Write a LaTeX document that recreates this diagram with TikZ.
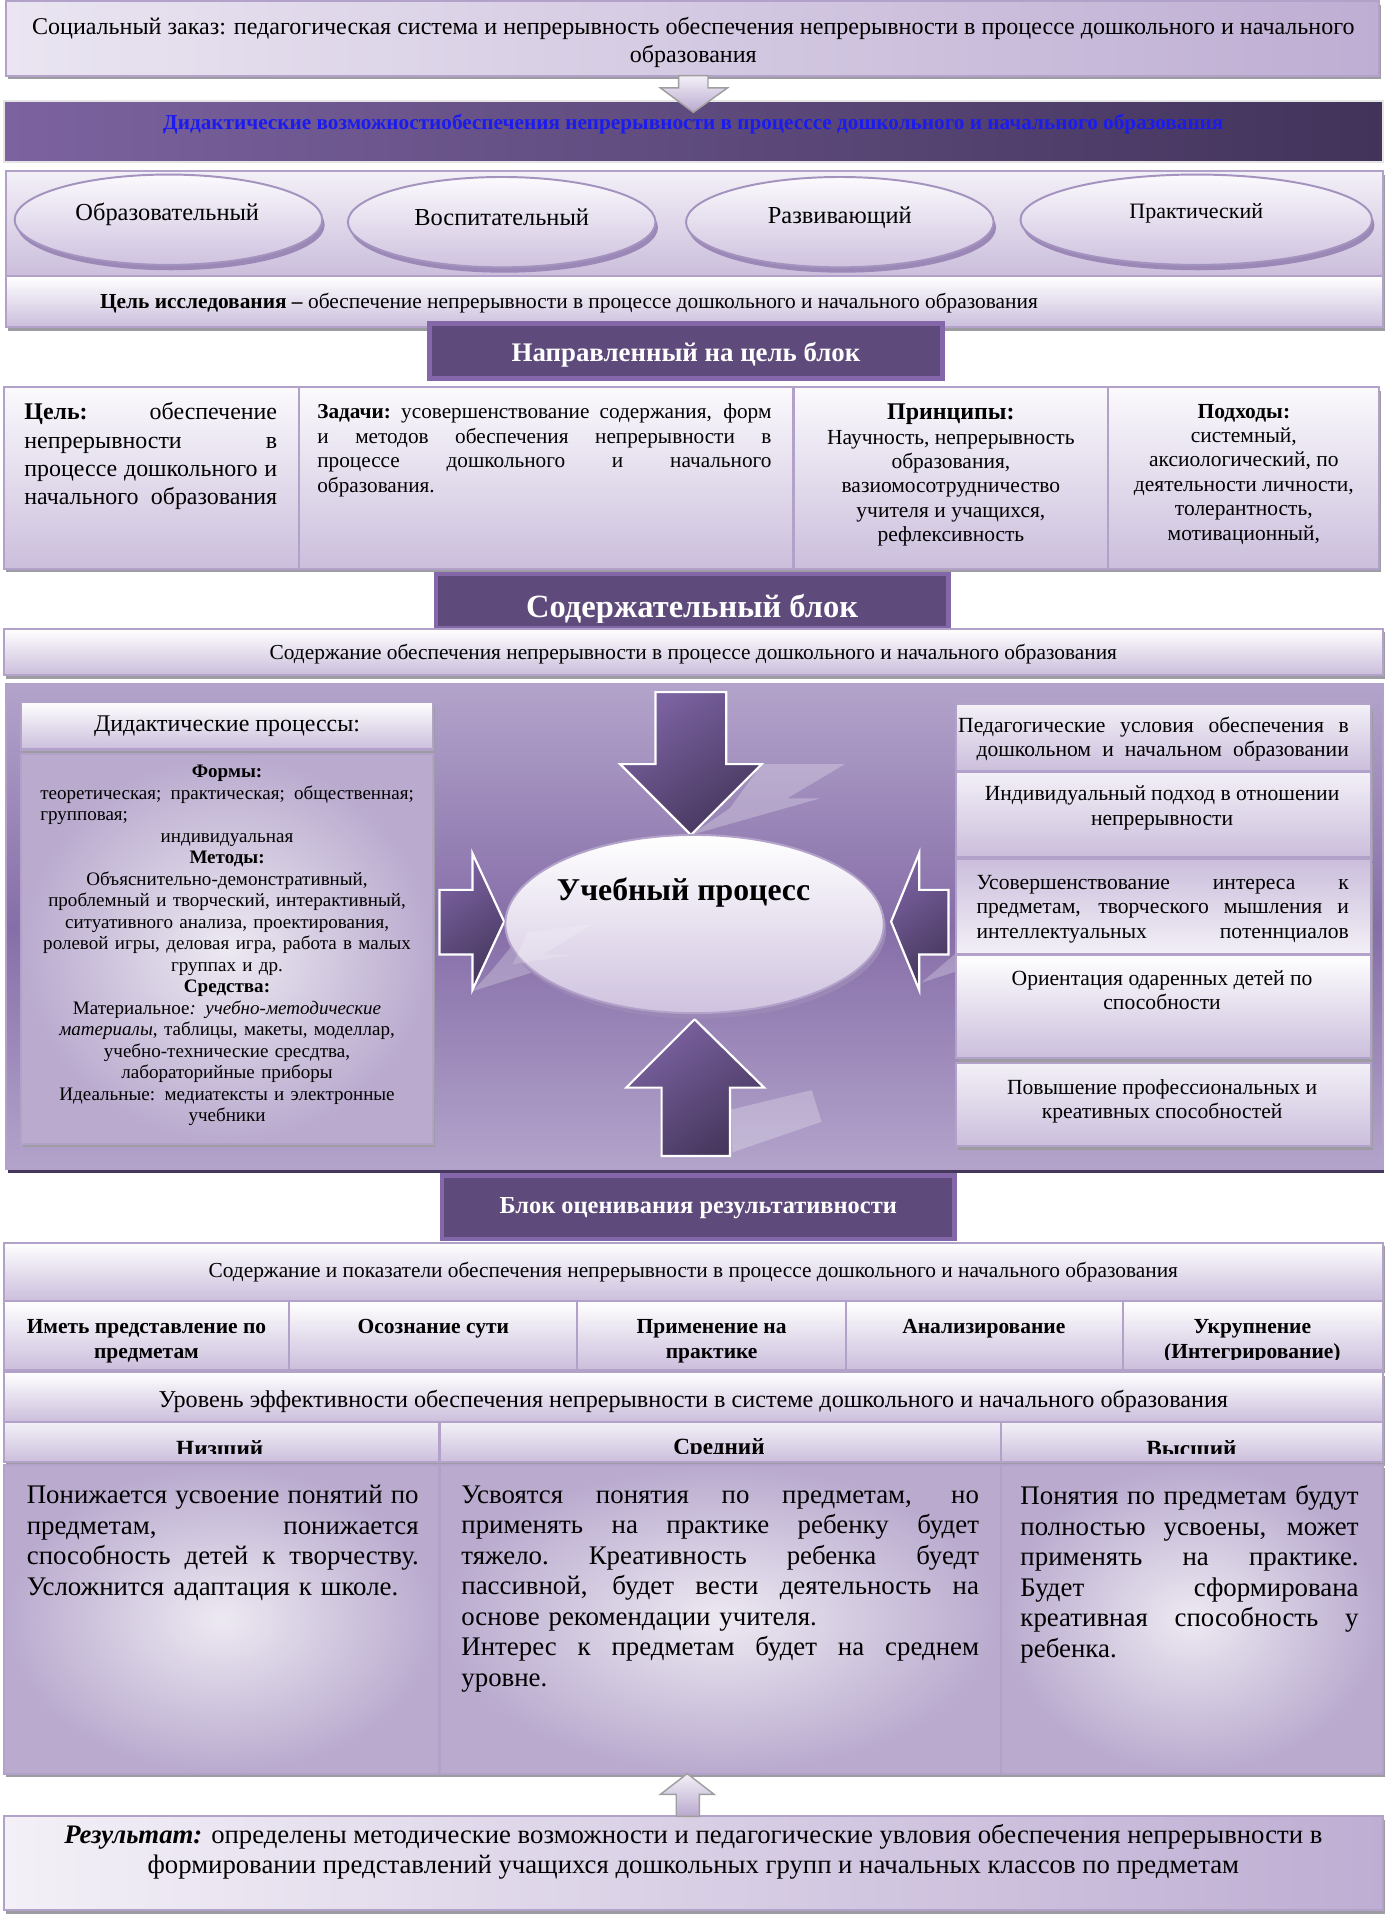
\documentclass[tikz,border=0pt]{standalone}
\usepackage{fontspec}
\setmainfont{Liberation Serif}
\usetikzlibrary{fit,shadows,shapes.geometric}

\definecolor{lavb}{HTML}{B2A2CA}
\definecolor{lavl}{HTML}{F3F0F7}
\definecolor{lavd}{HTML}{B9A9CF}
\definecolor{boxtop}{HTML}{FBFAFD}
\definecolor{boxbot}{HTML}{CBBEDC}
\definecolor{socL}{HTML}{EAE5F1}
\definecolor{socR}{HTML}{BEAED3}
\definecolor{banL}{HTML}{7C63A0}
\definecolor{banR}{HTML}{41335A}
\definecolor{blueT}{HTML}{1B1BF0}
\definecolor{darkp}{HTML}{5E4A7B}
\definecolor{darkb}{HTML}{8367A8}
\definecolor{ellb}{HTML}{A493BE}
\definecolor{ellbot}{HTML}{CFC2DF}
\definecolor{ellsh}{HTML}{9B88B7}
\definecolor{panell}{HTML}{B3A4CB}
\definecolor{panelm}{HTML}{866EA8}
\definecolor{arr1}{HTML}{7C63A2}
\definecolor{arr2}{HTML}{45365C}
\definecolor{shad}{HTML}{9E9CA3}
\definecolor{radin}{HTML}{EDE9F2}
\definecolor{radout}{HTML}{B9AACE}

\newcommand\jline[1]{{\spaceskip=0.25em plus 1fil\xspaceskip=0.25em plus 1fil\makebox[\hsize][s]{#1}}}

\tikzset{
  frame/.style={draw=lavb, line width=0.9pt, inner sep=0pt, outer sep=0pt,
    drop shadow={shadow xshift=0.8pt, shadow yshift=-1.5pt, fill=shad, opacity=1}},
  lightbox/.style={frame, top color=boxtop, bottom color=boxbot},
  radbox/.style={frame, inner color=radin, outer color=radout},
  darkbox/.style={draw=darkb, line width=1.8pt, fill=darkp, inner sep=0pt, outer sep=0pt},
  ovalbox/.style={ellipse, draw=ellb, line width=0.8pt, top color=boxtop, bottom color=ellbot,
    inner sep=0pt, drop shadow={shadow xshift=1pt, shadow yshift=-2.2pt, fill=ellsh, opacity=1}},
  blockarrow/.style={draw=white, line width=0.9pt, top color=arr1, bottom color=arr2, shading angle=35},
  palearrow/.style={draw=gray!75, line width=0.6pt, top color=lavl, bottom color=lavd},
  streak/.style={fill=white, opacity=0.25},
  txt/.style={inner sep=0pt, outer sep=0pt},
}

\begin{document}
\begin{tikzpicture}[x=0.5pt,y=-0.5pt]
\useasboundingbox (0,0) rectangle (1135,1568);
\fill[white] (0,0) rectangle (1135,1568);

% ---------- social order ----------
\node[frame, left color=socL, right color=socR, fit={(5,1) (1130,62)}] (soc) {};
\node[txt, font=\fontsize{9.85}{11.5}\selectfont, align=center] (soct) at (568,35)
  {Социальный заказ: педагогическая система и непрерывность обеспечения непрерывности в процессе дошкольного и начального\\образования};

% ---------- banner ----------
\node[draw=gray!20, line width=0.8pt, left color=banL, right color=banR, inner sep=0pt, fit={(3,83) (1133,133)}] (ban) {};
\node[txt, font=\bfseries\fontsize{8.7}{10}\selectfont, text=blueT] (bant) at (568,102)
  {Дидактические возможностиобеспечения непрерывности в процесссе дошкольного и начального образования};
\path[palearrow] (556,62) -- (580,62) -- (580,72) -- (596,72) -- (568,92) -- (541,72) -- (556,72) -- cycle;

% ---------- ellipses panel ----------
\node[frame, top color=lavl, bottom color=boxbot, fit={(5,140) (1133,226)}] (epan) {};
\node[ovalbox, minimum width=126pt, minimum height=37pt] (e1) at (138,180) {};
\node[ovalbox, minimum width=126pt, minimum height=37pt] (e2) at (411,182) {};
\node[ovalbox, minimum width=126pt, minimum height=37pt] (e3) at (688,182) {};
\node[ovalbox, minimum width=144pt, minimum height=37pt] (e4) at (980,180) {};
\node[txt, font=\fontsize{10}{11}\selectfont] (e1t) at (137,176) {Образовательный};
\node[txt, font=\fontsize{10}{11}\selectfont] (e2t) at (411,178) {Воспитательный};
\node[txt, font=\fontsize{10}{11}\selectfont] (e3t) at (688,178) {Развивающий};
\node[txt, font=\fontsize{9}{10}\selectfont] (e4t) at (980,175) {Практический};

% ---------- research goal ----------
\node[frame, top color=white, bottom color=boxbot, fit={(5,226) (1133,268)}] (goal) {};
\node[txt, anchor=west, font=\fontsize{8.75}{10}\selectfont] (goalt) at (82,248)
  {\textbf{Цель исследования –} обеспечение непрерывности в процессе дошкольного и начального образования};

\node[darkbox, fit={(352,265) (772,310)}] (dir) {};
\node[txt, font=\bfseries\fontsize{11}{13}\selectfont, text=white] (dirt) at (562,291) {Направленный на цель блок};

% ---------- four boxes ----------
\node[lightbox, fit={(3,317) (245,466)}] (g1) {};
\node[lightbox, fit={(245,317) (650,466)}] (g2) {};
\node[lightbox, fit={(650,317) (908,466)}] (g3) {};
\node[lightbox, fit={(908,317) (1130,466)}] (g4) {};
\node[txt, anchor=north west, text width=103.5pt, align=left, font=\fontsize{9.8}{11.5}\selectfont] (g1t) at (20,330)
  {\jline{\textbf{Цель:} обеспечение}\\\jline{непрерывности в}\\\jline{процессе дошкольного и}\\\jline{начального образования}};
\node[txt, anchor=north west, text width=186pt, align=left, font=\fontsize{8.7}{10}\selectfont] (g2t) at (260,331)
  {\jline{\textbf{Задачи:} усовершенствование содержания, форм}\\\jline{и методов обеспечения непрерывности в}\\\jline{процессе дошкольного и начального}\\образования.};
\node[txt, anchor=north, align=center, font=\fontsize{8.8}{10}\selectfont] (g3t) at (779,331)
  {{\fontsize{9.8}{11}\selectfont\textbf{Принципы:}}\\Научность, непрерывность\\образования,\\вазиомосотрудничество\\учителя и учащихся,\\рефлексивность};
\node[txt, anchor=north, align=center, font=\fontsize{8.8}{10}\selectfont] (g4t) at (1019,331)
  {\textbf{Подходы:}\\системный,\\аксиологический, по\\деятельности личности,\\толерантность,\\мотивационный,};

% ---------- content block ----------
\node[darkbox, fit={(357,470) (777,515)}] (cont) {};
\begin{scope}
\clip (357,470) rectangle (777,510);
\node[txt, font=\bfseries\fontsize{13.3}{15}\selectfont, text=white] (contt) at (567,499) {Содержательный блок};
\end{scope}
\node[lightbox, top color=white, fit={(3,515) (1133,553)}] (crow) {};
\node[txt, font=\fontsize{8.75}{10}\selectfont] (crowt) at (568,536)
  {Содержание обеспечения непрерывности в процессе дошкольного и начального образования};

% ---------- central panel ----------
\node[draw=lavb, line width=0.8pt, top color=panell, bottom color=panell, middle color=panelm, inner sep=0pt,
  drop shadow={shadow xshift=0.6pt, shadow yshift=-1.6pt, fill=arr2, opacity=1}, fit={(5,560) (1133,958)}] (panel) {};

% decorative light streaks
\fill[streak] (566,684) -- (672,654) -- (645,654) -- (692,626) -- (624,626) -- (598,662) -- cycle;
\fill[streak] (387,812) -- (470,786) -- (446,786) -- (483,757) -- (430,762) -- (402,796) -- cycle;
\fill[streak] (599,909) -- (665,893) -- (673,919) -- (600,944) -- cycle;
\fill[streak] (755,805) -- (783,781) -- (783,796) -- cycle;

% left column
\node[lightbox, top color=white, fit={(17,575) (355,614)}] (dph) {};
\node[txt, font=\fontsize{9.8}{11}\selectfont] (dpht) at (186,595) {Дидактические процессы:};
\node[radbox, fit={(17,618) (355,937)}] (dpc) {};
\node[txt, anchor=north, text width=153pt, align=center, font=\fontsize{7.8}{8.8}\selectfont] (dpct) at (186,627)
  {\textbf{Формы:}\\
   \jline{теоретическая; практическая; общественная;}\\
   \makebox[\hsize][l]{групповая;}\\
   индивидуальная\\
   \textbf{Методы:}\\
   Объяснительно-демонстративный,\\
   проблемный и творческий, интерактивный,\\
   ситуативного анализа, проектирования,\\
   ролевой игры, деловая игра, работа в малых\\
   группах и др.\\
   \textbf{Средства:}\\
   Материальное\textit{: учебно-методические}\\
   \textit{материалы}, таблицы, макеты, моделлар,\\
   учебно-технические сресдтва,\\
   лабораторийные приборы\\
   Идеальные: медиатексты и электронные\\
   учебники};

% block arrows
\path[blockarrow] (537,567) -- (595,567) -- (595,626) -- (624,626) -- (566,684) -- (508,626) -- (537,626) -- cycle;
\path[blockarrow] (542,947) -- (598,947) -- (598,891) -- (626,891) -- (569,835) -- (513,891) -- (542,891) -- cycle;
\path[blockarrow] (360,729) -- (387,729) -- (387,699) -- (413,755) -- (387,811) -- (387,782) -- (360,782) -- cycle;
\path[blockarrow] (777,729) -- (753,729) -- (753,699) -- (730,755) -- (753,811) -- (753,782) -- (777,782) -- cycle;

% central ellipse
\node[ovalbox, draw=lavb, top color=white, bottom color=ellbot, minimum width=155pt, minimum height=73pt] (proc) at (569,757) {};
\fill[streak, opacity=0.18] (420,790) -- (470,782) -- (445,782) -- (485,757) -- (432,764) -- cycle;
\node[txt, font=\bfseries\fontsize{13}{15}\selectfont] (proct) at (560,731) {Учебный процесс};

% right column
\node[lightbox, top color=lavl, fit={(783,577) (1123,632)}] (r1) {};
\node[lightbox, top color=lavl, fit={(783,632) (1123,702)}] (r2) {};
\node[lightbox, top color=boxbot, bottom color=lavl, fit={(783,704) (1123,782)}] (r3) {};
\node[lightbox, top color=white, fit={(783,782) (1123,867)}] (r4) {};
\node[lightbox, top color=lavl, fit={(783,871) (1123,939)}] (r5) {};
\node[txt, anchor=north west, text width=160pt, align=left, font=\fontsize{8.85}{10}\selectfont] (r1t) at (785,587)
  {\jline{Педагогические условия обеспечения в}\\\makebox[\hsize][r]{\hbox to 152.5pt{\spaceskip=0.25em plus 1fil\relax дошкольном и начальном образовании}}};
\node[txt, anchor=north, align=center, font=\fontsize{8.85}{10}\selectfont] (r2t) at (952,644)
  {Индивидуальный подход в отношении\\непрерывности};
\node[txt, anchor=north west, text width=152.5pt, align=left, font=\fontsize{8.85}{10}\selectfont] (r3t) at (800,717)
  {\jline{Усовершенствование интереса к}\\\jline{предметам, творческого мышления и}\\\jline{интеллектуальных потеннциалов}};
\node[txt, anchor=north, align=center, font=\fontsize{8.85}{10}\selectfont] (r4t) at (952,795)
  {Ориентация одаренных детей по\\способности};
\node[txt, anchor=north, align=center, font=\fontsize{8.85}{10}\selectfont] (r5t) at (952,884)
  {Повышение профессиональных и\\креативных способностей};

% ---------- evaluation block ----------
\node[darkbox, fit={(362,963) (782,1015)}] (eval) {};
\node[txt, font=\bfseries\fontsize{10}{11}\selectfont, text=white] (evalt) at (572,990) {Блок оценивания результативности};

\node[lightbox, top color=white, fit={(3,1018) (1133,1066)}] (ind) {};
\node[txt, font=\fontsize{8.75}{10}\selectfont] (indt) at (568,1042)
  {Содержание и показатели обеспечения непрерывности в процессе дошкольного и начального образования};

\node[lightbox, top color=white, fit={(3,1066) (237,1122)}] (c1) {};
\node[lightbox, top color=white, fit={(237,1066) (473,1122)}] (c2) {};
\node[lightbox, top color=white, fit={(473,1066) (693,1122)}] (c3) {};
\node[lightbox, top color=white, fit={(693,1066) (920,1122)}] (c4) {};
\node[lightbox, top color=white, fit={(920,1066) (1133,1122)}] (c5) {};
\begin{scope}[every node/.style={txt, anchor=north, align=center, font=\bfseries\fontsize{8.8}{10}\selectfont}]
\node (c1t) at (120,1081) {Иметь представление по\\предметам};
\node (c2t) at (355,1081) {Осознание сути};
\node (c3t) at (583,1081) {Применение на\\практике};
\node (c4t) at (806,1081) {Анализирование};
\begin{scope}
\clip (920,1066) rectangle (1133,1114);
\node (c5t) at (1026,1081) {Укрупнение\\(Интегрирование)};
\end{scope}
\end{scope}

\node[lightbox, top color=white, fit={(3,1124) (1133,1165)}] (lvl) {};
\node[txt, font=\fontsize{9.9}{11}\selectfont] (lvlt) at (568,1148)
  {Уровень эффективности обеспечения непрерывности в системе дошкольного и начального образования};

\node[lightbox, top color=lavl, fit={(3,1165) (360,1198)}] (h1) {};
\node[lightbox, top color=lavl, fit={(360,1165) (820,1198)}] (h2) {};
\node[lightbox, top color=lavl, fit={(820,1165) (1133,1198)}] (h3) {};
\begin{scope}
\clip (3,1165) rectangle (1133,1191);
\node[txt, font=\bfseries\fontsize{9.5}{11}\selectfont] (h1t) at (180,1187) {Низший};
\node[txt, font=\bfseries\fontsize{9.5}{11}\selectfont] (h2t) at (589,1187) {Средний};
\node[txt, font=\bfseries\fontsize{9.5}{11}\selectfont] (h3t) at (976,1187) {Высший};
\end{scope}

\node[radbox, fit={(3,1200) (360,1453)}] (l1) {};
\node[radbox, fit={(360,1200) (820,1453)}] (l2) {};
\node[radbox, fit={(820,1200) (1133,1453)}] (l3) {};
\begin{scope}[every node/.style={txt, anchor=north west, align=left, font=\fontsize{11}{12.5}\selectfont}]
\node[text width=160.5pt] (l1t) at (22,1217)
  {\jline{Понижается усвоение понятий по}\\\jline{предметам, понижается}\\\jline{способность детей к творчеству.}\\Усложнится адаптация к школе.};
\node[text width=212pt] (l2t) at (378,1217)
  {\jline{Усвоятся понятия по предметам, но}\\\jline{применять на практике ребенку будет}\\\jline{тяжело. Креативность ребенка буедт}\\\jline{пассивной, будет вести деятельность на}\\основе рекомендации учителя.\\\jline{Интерес к предметам будет на среднем}\\уровне.};
\node[text width=138.5pt] (l3t) at (836,1217)
  {\jline{Понятия по предметам будут}\\\jline{полностью усвоены, может}\\\jline{применять на практике.}\\\jline{Будет сформирована}\\\jline{креативная способность у}\\ребенка.};
\end{scope}

% ---------- result ----------
\node[frame, left color=lavl, right color=socR, fit={(3,1488) (1133,1565)}] (res) {};
\path[palearrow] (554,1488) -- (573,1488) -- (573,1470) -- (585,1470) -- (563,1453) -- (541,1470) -- (554,1470) -- cycle;
\node[txt, align=center, font=\fontsize{10.95}{12.5}\selectfont] (rest) at (568,1517)
  {\textbf{\textit{Результат:}} определены методические возможности и педагогические увловия обеспечения непрерывности в\\формировании представлений учащихся дошкольных групп и начальных классов по предметам};
\end{tikzpicture}
\end{document}
